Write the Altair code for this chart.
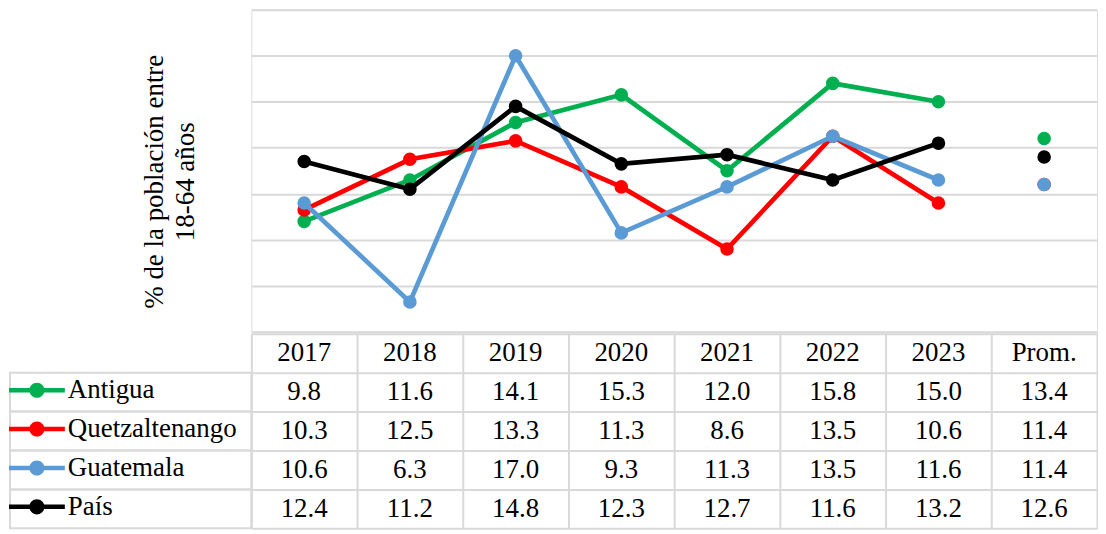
import altair as alt
import pandas as pd

# ---------------- data ----------------
categories = ["2017", "2018", "2019", "2020", "2021", "2022", "2023", "Prom."]
series = ["Antigua", "Quetzaltenango", "Guatemala", "País"]
colors = ["#00B050", "#FF0000", "#5B9BD5", "#000000"]
antigua = [9.8, 11.6, 14.1, 15.3, 12.0, 15.8, 15.0, 13.4]
quetzaltenango = [10.3, 12.5, 13.3, 11.3, 8.6, 13.5, 10.6, 11.4]
guatemala = [10.6, 6.3, 17.0, 9.3, 11.3, 13.5, 11.6, 11.4]
pais = [12.4, 11.2, 14.8, 12.3, 12.7, 11.6, 13.2, 12.6]
y_title = ["% de la población entre", "18-64 años"]
grid_values = [5, 7, 9, 11, 13, 15, 17, 19]

values = dict(zip(series, [antigua, quetzaltenango, guatemala, pais]))

# ---------------- layout / style ----------------
FONT = "Liberation Serif, Times New Roman, DejaVu Serif, serif"
FS = 27
GRID = "#d9d9d9"
W = 848
H = 323
ROW_H = 39
LABEL_W = 242
SYMBOL = ("M -1 -0.08 L 1 -0.08 L 1 0.08 L -1 0.08 Z "
          "M -0.27 0 A 0.27 0.27 0 1 1 0.27 0 A 0.27 0.27 0 1 1 -0.27 0 Z")

rows = []
for s in series:
    for c, v in zip(categories, values[s]):
        rows.append({"cat": c, "series": s, "value": v,
                     "kind": "avg" if c == "Prom." else "year"})
df = pd.DataFrame(rows)

xs = alt.X("cat:N", scale=alt.Scale(type="point", domain=categories, padding=0.5),
           axis=None)
ys = alt.Y("value:Q",
           scale=alt.Scale(domain=[5, 19], nice=False, zero=False),
           axis=alt.Axis(values=grid_values, grid=True, gridColor=GRID, gridWidth=2,
                         ticks=False, labels=False, domain=False,
                         title=y_title, titleFont=FONT, titleFontSize=FS,
                         titleFontWeight="normal", titleColor="black",
                         titleLineHeight=31, titleX=-83, titleY=172,
                         titleAlign="center", titleBaseline="bottom"))
color = alt.Color("series:N",
                  scale=alt.Scale(domain=series, range=colors),
                  legend=alt.Legend(orient="none", legendX=-1 - LABEL_W, legendY=H + ROW_H,
                                    title=None, symbolType=SYMBOL,
                                    symbolSize=56 * 56, symbolStrokeWidth=0,
                                    clipHeight=ROW_H, rowPadding=0, padding=0,
                                    labelFont=FONT, labelFontSize=FS,
                                    labelColor="black", labelOffset=3,
                                    labelLimit=400, direction="vertical"))

base = alt.Chart(df)
layers = []
for s, col in zip(series, colors):
    line = base.transform_filter(
        (alt.datum.series == s) & (alt.datum.kind == "year")
    ).mark_line(strokeWidth=4.7, color=col).encode(x=xs, y=ys)
    pts = base.transform_filter(alt.datum.series == s).mark_circle(
        size=185, opacity=1).encode(x=xs, y=ys, color=color)
    layers += [line, pts]

top = alt.layer(*layers).properties(width=W, height=H)

# ---------------- table ----------------
HEADER = "_header"
trows = [{"row": HEADER, "cat": c, "label": c} for c in categories]
for s in series:
    for c, v in zip(categories, values[s]):
        trows.append({"row": s, "cat": c, "label": f"{v:.1f}"})
tdf = pd.DataFrame(trows)
row_domain = [HEADER] + series

tx = alt.X("cat:N", scale=alt.Scale(domain=categories, paddingInner=0, paddingOuter=0),
           axis=alt.Axis(orient="top", grid=True, gridColor=GRID, gridWidth=2,
                         tickBand="extent", ticks=False, labels=False,
                         domain=False, title=None))
ty = alt.Y("row:N", scale=alt.Scale(domain=row_domain, paddingInner=0, paddingOuter=0),
           axis=alt.Axis(grid=True, gridColor=GRID, gridWidth=2, tickBand="extent",
                         ticks=False, labels=False, domain=False, title=None))

text = alt.Chart(tdf).mark_text(font=FONT, fontSize=FS, color="black").encode(
    x=tx, y=ty, text="label:N")

boxes = alt.Chart(pd.DataFrame({"row": series})).mark_rect(
    fillOpacity=0, stroke=GRID, strokeWidth=2
).encode(y=ty, x=alt.value(-LABEL_W), x2=alt.value(0))

table = alt.layer(boxes, text).properties(width=W, height=5 * ROW_H)

chart = alt.vconcat(top, table, spacing=0).properties(padding=0).configure_view(
    strokeWidth=0).configure(font=FONT)

chart.save("out.html", embed_options={"renderer": "svg", "actions": False})
